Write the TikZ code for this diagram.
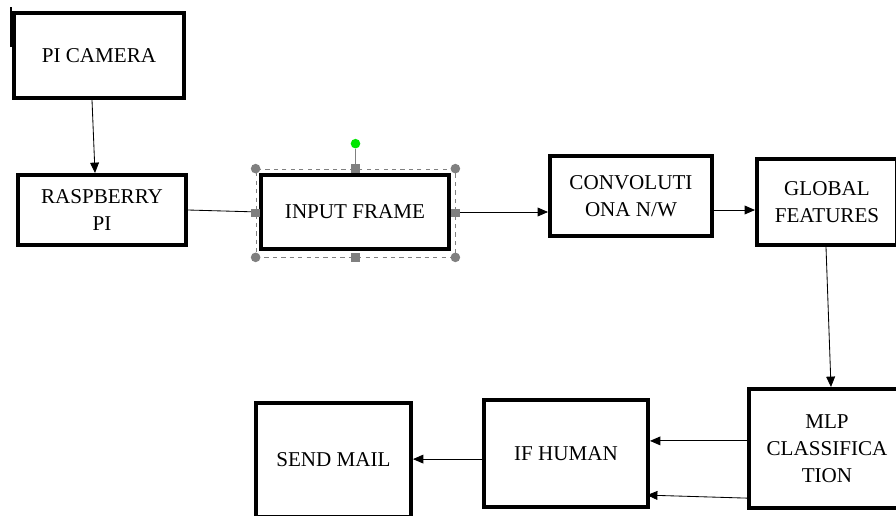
\documentclass[tikz,border=0pt]{standalone}
\usepackage{fontspec}
\setmainfont{Liberation Serif}
\usetikzlibrary{arrows.meta, positioning, calc}
\definecolor{handlegray}{RGB}{128,128,128}
\definecolor{rotgreen}{RGB}{0,230,0}

\begin{document}
\begin{tikzpicture}[
        x=0.025cm, y=-0.025cm,
        block/.style={
            rectangle,
            draw=black,
            line width=2.8pt,
            fill=white,
            inner sep=0pt,
            align=center,
            font=\fontsize{15}{19}\selectfont
        },
        link/.style={
            -{Triangle[length=0.26cm, width=0.22cm]},
            line width=0.6pt
        },
        selbox/.style={
            rectangle,
            draw=handlegray,
            dashed,
            line width=0.5pt,
            minimum width=4.975cm,
            minimum height=2.2cm
        },
        grip/.style={
            rectangle,
            fill=handlegray,
            minimum size=0.21cm,
            inner sep=0pt
        },
        knob/.style={
            circle,
            fill=handlegray,
            minimum size=0.24cm,
            inner sep=0pt
        }
    ]
        \useasboundingbox (0,0) rectangle (896,515);
        \clip (0,0) rectangle (896,515);
        \fill[white] (0,0) rectangle (896,515);

        \node[block, minimum width=4.25cm, minimum height=2.125cm] (cam) at (99,55.5) {PI CAMERA};
        \draw[line width=2pt] (11,7) -- (11,47);
        \node[block, minimum width=4.2cm, minimum height=1.75cm] (rpi) at (102,210) {RASPBERRY\\PI};
        \node[block, minimum width=4.7cm, minimum height=1.85cm] (frame) at (355,212) {INPUT FRAME};
        \node[block, minimum width=4.05cm, minimum height=2cm] (conv) at (631,196) {CONVOLUTI\\ONA N/W};
        \node[block, minimum width=3.5cm, minimum height=2.15cm] (glob) at (827,202) {GLOBAL\\FEATURES};
        \node[block, minimum width=3.9cm, minimum height=2.975cm] (mlp) at (827,448.5) {MLP\\CLASSIFICA\\TION};
        \node[block, minimum width=4.1cm, minimum height=2.675cm] (human) at (566,453.5) {IF HUMAN};
        \node[block, minimum width=3.875cm, minimum height=2.85cm] (mail) at (333.5,460) {SEND MAIL};

        \draw[link] ([xshift=-0.175cm]cam.south) -- ([xshift=-0.175cm]rpi.north);
        \draw[line width=0.6pt] (rpi.east) -- (frame.west);
        \draw[link] (frame.east) -- (frame.east -| conv.west);
        \draw[link] ([yshift=-0.35cm]conv.east) -- ([yshift=-0.35cm]conv.east -| glob.west);
        \draw[link] ([xshift=-0.025cm]glob.south) -- ([xshift=0.1cm]mlp.north);
        \draw[link] ([yshift=0.19cm]mlp.west) -- ([yshift=0.19cm]mlp.west -| human.east);
        \draw[link] ([yshift=-1.24cm]mlp.west) -- ([yshift=-1.04cm,xshift=-0.075cm]human.east);
        \draw[link] ([yshift=-0.14cm]human.west) -- ([yshift=-0.14cm]human.west -| mail.east);

        % selection handles round the input frame
        \node[selbox] (sel) at ($(frame.center)+(0.5,1)$) {};
        \node[knob, fill=rotgreen] (rot) at ($(sel.north)+(0,-25)$) {};
        \draw[handlegray, line width=0.8pt] (rot) -- (sel.north);
        \foreach \a/\n in {north west/nw, north east/ne, south west/sw, south east/se}
            \node[knob] (knob-\n) at (sel.\a) {};
        \foreach \a/\n in {north/n, south/s, west/w, east/e}
            \node[grip] (grip-\n) at (sel.\a) {};
    \end{tikzpicture}
\end{document}
